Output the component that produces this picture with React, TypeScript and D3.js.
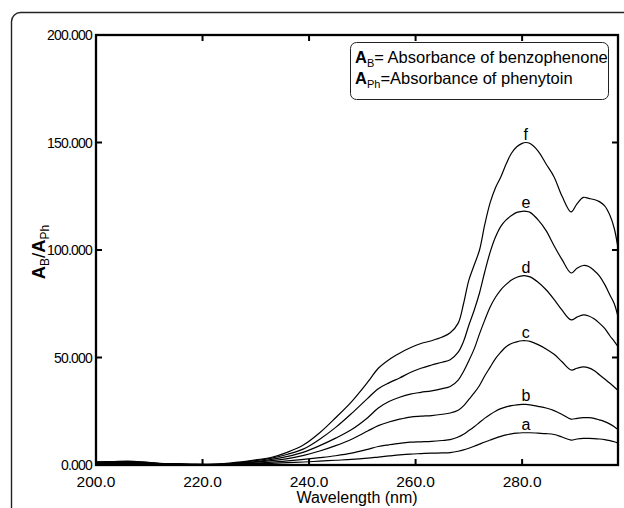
import React from "react";
import * as d3 from "d3";

const wavelengths = [200, 203, 206, 209, 212, 215, 218, 221, 224, 227, 230, 233, 236, 239, 242, 245, 248, 251, 253, 255, 257, 259, 261, 263, 265, 266.5, 268, 269, 270, 271, 272, 273, 274, 275, 276, 277, 278, 279, 280, 280.7, 281.5, 283, 284.5, 286, 287.5, 289.2, 290.3, 291.5, 292.5, 293.5, 294.5, 295.5, 296.5, 297.3, 298];

const seriesA = [0.5, 0.6, 0.7, 0.6, 0.3, 0.2, 0.1, 0.1, 0.2, 0.4, 0.6, 0.8, 1.1, 1.4, 1.8, 2.2, 2.6, 3.2, 3.7, 4.2, 4.7, 5.1, 5.3, 5.5, 5.6, 5.8, 6.4, 7, 7.8, 8.7, 9.7, 10.7, 11.6, 12.5, 13.3, 14, 14.5, 14.8, 15, 15, 15, 14.8, 14.6, 14.2, 13, 11.6, 12.1, 12.4, 12.4, 12.3, 12.1, 11.8, 11.3, 10.8, 10.1];
const seriesB = [0.7, 0.8, 0.9, 0.8, 0.4, 0.3, 0.2, 0.1, 0.3, 0.6, 0.9, 1.3, 1.9, 2.6, 3.4, 4.3, 5.5, 7.3, 8.6, 9.4, 10.1, 10.6, 10.8, 11, 11.4, 11.8, 13, 14.3, 16, 17.8, 19.8, 21.8, 23.5, 25, 26.2, 27, 27.6, 28, 28.2, 28.2, 28, 27.3, 26.5, 25.3, 23.5, 21.3, 21.7, 22, 22, 21.7, 21, 20.2, 19, 17.8, 16.5];
const seriesC = [0.9, 1.0, 1.1, 0.9, 0.5, 0.3, 0.2, 0.2, 0.3, 0.8, 1.3, 2, 3, 4.5, 6.5, 9, 12, 15.8, 18.3, 20, 21.3, 22.3, 22.7, 23, 23.6, 24.2, 25.5, 27.5, 30.5, 33.5, 37, 41.5, 45.5, 49.5, 52.5, 55, 56.5, 57.3, 57.8, 57.8, 57.5, 56, 54, 51.5, 48, 44.2, 45, 45.6, 45.2, 44, 42, 40, 38, 36.3, 34.7];
const seriesD = [1.1, 1.2, 1.3, 1.1, 0.6, 0.4, 0.2, 0.2, 0.4, 1, 1.6, 2.6, 4, 6, 9, 12.5, 16.5, 22, 26.5, 29.5, 31.5, 33, 33.8, 34.5, 35.5, 36.5, 39.5, 43.5, 48.5, 54, 61, 67.5, 73.5, 78, 81.5, 84, 86, 87.3, 88, 88, 87.5, 85, 81.5, 77, 72, 67.5, 68.8, 69.8, 69.3, 68, 66, 63.5, 60, 57.5, 55];
const seriesE = [1.3, 1.4, 1.6, 1.3, 0.7, 0.5, 0.3, 0.3, 0.5, 1.2, 2, 3.2, 5, 7.5, 12, 17.5, 24, 31, 35.5, 38.2, 40.5, 43, 45, 46.5, 47.8, 49, 52.5, 57.5, 65, 72, 80, 90, 99, 106, 111, 114, 116, 117.5, 118, 118, 117.5, 114, 109, 102, 95.5, 89.3, 91.5, 92.8, 92.3, 90.5, 88, 84, 79, 75, 69];
const seriesF = [1.5, 1.6, 1.8, 1.4, 0.8, 0.6, 0.4, 0.3, 0.6, 1.4, 2.4, 3.6, 6, 9.4, 15, 22, 29.5, 38.5, 45, 49, 52, 54.5, 56.5, 57.8, 59.5, 61.5, 66, 75, 86, 93, 100, 112, 122, 129, 134, 140, 145, 148, 149.6, 150, 149.5, 146, 140, 134, 125, 117.7, 121.5, 124.5, 124, 123.5, 122.5, 120.5, 116, 110, 101];

const seriesNames = ["a", "b", "c", "d", "e", "f"];
const seriesValues = [seriesA, seriesB, seriesC, seriesD, seriesE, seriesF];
const labelWavelength = 280.7;

const xTickValues = [200, 220, 240, 260, 280];
const yTickValues = [0, 50, 100, 150, 200];
const xInnerTicks = [220, 240, 260, 280];
const yInnerTicks = [50, 100, 150];

const xTitle = "Wavelength (nm)";
const legendLine1 = { main: "A", sub: "B", rest: "= Absorbance of benzophenone" };
const legendLine2 = { main: "A", sub: "Ph", rest: "=Absorbance of phenytoin" };

const FONT = "'Liberation Sans', Arial, Helvetica, sans-serif";

export default function App() {
  const W = 624, H = 508;
  const left = 96, right = 618, top = 35, bottom = 465;
  const x = d3.scaleLinear().domain([200, 298]).range([left, right]);
  const y = d3.scaleLinear().domain([0, 200]).range([bottom, top]);
  const line = d3
    .line<number>()
    .x((_, i) => x(wavelengths[i]))
    .y((v) => y(v))
    .curve(d3.curveCatmullRom.alpha(0.5));

  const tickLen = 6;

  return (
    <svg
      width={W}
      height={H}
      viewBox={`0 0 ${W} ${H}`}
      style={{ position: "absolute", left: 0, top: 0, display: "block", background: "#fff" }}
      fontFamily={FONT}
    >
      <rect x={11.5} y={12.5} width={700} height={600} rx={9} ry={9} fill="none" stroke="#222" strokeWidth={1.4} />

      {/* curves */}
      {seriesValues.map((vals, k) => (
        <path key={k} d={line(vals) || ""} fill="none" stroke="#000" strokeWidth={1.2} strokeLinejoin="round" />
      ))}

      {/* curve labels */}
      {seriesValues.map((vals, k) => {
        const peak = d3.max(vals) as number;
        return (
          <text key={k} x={x(labelWavelength)} y={y(peak) - 3} textAnchor="middle" fontSize={16} fill="#000">
            {seriesNames[k]}
          </text>
        );
      })}

      {/* plot frame */}
      <rect x={left} y={top} width={right - left} height={bottom - top} fill="none" stroke="#000" strokeWidth={2.3} />

      {/* inner ticks */}
      {xInnerTicks.map((t) => (
        <g key={"xt" + t}>
          <line x1={x(t)} x2={x(t)} y1={bottom} y2={bottom - tickLen} stroke="#000" strokeWidth={2} />
          <line x1={x(t)} x2={x(t)} y1={top} y2={top + tickLen} stroke="#000" strokeWidth={2} />
        </g>
      ))}
      {yInnerTicks.map((t) => (
        <g key={"yt" + t}>
          <line x1={left} x2={left + tickLen} y1={y(t)} y2={y(t)} stroke="#000" strokeWidth={2} />
          <line x1={right} x2={right - tickLen} y1={y(t)} y2={y(t)} stroke="#000" strokeWidth={2} />
        </g>
      ))}

      {/* tick labels */}
      {xTickValues.map((t) => (
        <text key={"xl" + t} x={x(t)} y={487} textAnchor="middle" fontSize={15.5} fill="#000">
          {d3.format(".1f")(t)}
        </text>
      ))}
      {yTickValues.map((t) => (
        <text key={"yl" + t} x={92} y={y(t)} dy="0.36em" textAnchor="end" fontSize={14} letterSpacing={-0.8} fill="#000">
          {d3.format(".3f")(t)}
        </text>
      ))}

      {/* axis titles */}
      <text x={357} y={503} textAnchor="middle" fontSize={16} fill="#000">
        {xTitle}
      </text>
      <g transform="translate(45,252) rotate(-90)">
        <text textAnchor="middle" fontSize={18.5} fill="#000">
          <tspan fontWeight="bold">A</tspan>
          <tspan fontSize={12} dy={4}>B</tspan>
          <tspan dy={-4}>/</tspan>
          <tspan fontWeight="bold">A</tspan>
          <tspan fontSize={12} dy={4}>Ph</tspan>
        </text>
      </g>

      {/* legend */}
      <rect x={350.5} y={42.5} width={258} height={57} rx={6} ry={6} fill="#fff" stroke="#222" strokeWidth={1} />
      <text x={355} y={63} fontSize={16.5} fill="#000">
        <tspan fontWeight="bold">{legendLine1.main}</tspan>
        <tspan fontSize={11} dy={4}>{legendLine1.sub}</tspan>
        <tspan dy={-4}>{legendLine1.rest}</tspan>
      </text>
      <text x={355} y={84} fontSize={16.5} fill="#000">
        <tspan fontWeight="bold">{legendLine2.main}</tspan>
        <tspan fontSize={11} dy={4}>{legendLine2.sub}</tspan>
        <tspan dy={-4}>{legendLine2.rest}</tspan>
      </text>
    </svg>
  );
}
